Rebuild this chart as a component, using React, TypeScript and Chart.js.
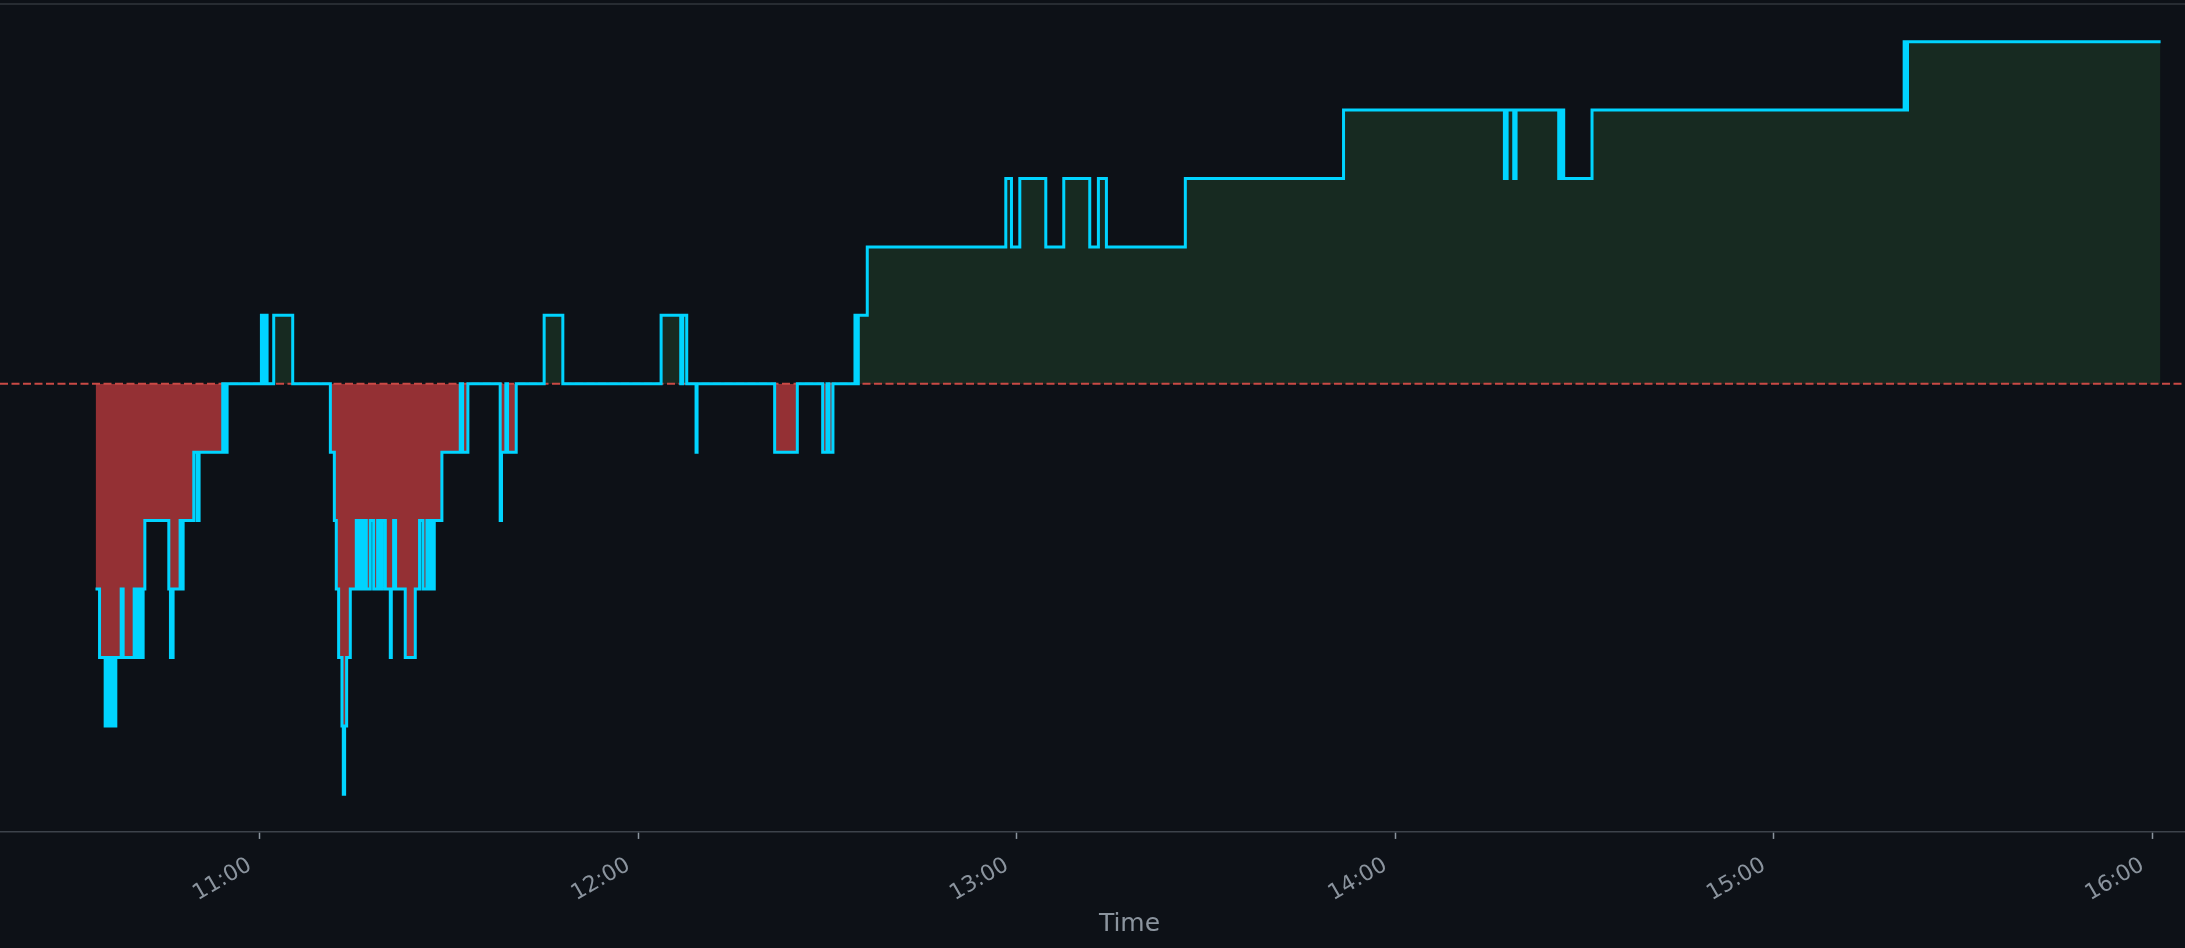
import { useEffect, useRef } from 'react';
import { Chart, registerables } from 'chart.js';

Chart.register(...registerables);

// transition times (minutes since midnight) and the integer level that holds from that time on
const times = [
  633.94, 634.58, 635.47, 635.9, 636.16, 636.53, 636.74, 637.16, 638.01, 638.32,
  640.07, 640.54, 640.86, 641.07, 641.49, 641.76, 645.56, 645.82, 646.24, 647.35,
  647.56, 647.83, 649.52, 650.05, 650.36, 654.11, 654.43, 654.8, 660.24, 660.61,
  660.77, 661.14, 662.19, 665.2, 671.17, 671.8, 672.11, 672.48, 673.01, 673.22,
  673.43, 673.75, 674.33, 675.28, 675.55, 675.92, 676.34, 676.6, 676.87, 677.5,
  678.03, 678.66, 678.98, 679.4, 679.88, 680.67, 680.83, 681.2, 681.51, 683.04,
  684.63, 685.31, 685.84, 686.48, 686.79, 687.22, 687.43, 687.64, 688.85, 691.76,
  692.13, 692.97, 698.09, 698.3, 698.99, 699.26, 700.63, 705.06, 708.02, 723.6,
  726.71, 727.03, 727.66, 729.14, 729.3, 741.6, 745.19, 749.21, 749.89, 750.21,
  750.84, 754.33, 754.59, 754.86, 756.28, 778.24, 779.14, 780.46, 784.58, 787.43,
  791.55, 792.92, 794.19, 806.7, 831.78, 857.28, 857.71, 858.76, 859.13, 865.89,
  866.26, 866.68, 871.17, 920.65, 920.91, 921.18, 961.3,
];
const levels = [
  -3, -4, -5, -4, -5, -4, -5, -4, -3, -4,
  -3, -4, -3, -4, -3, -2, -3, -4, -3, -2,
  -3, -2, -1, -2, -1, 0, -1, 0, 1, 0,
  1, 0, 1, 0, -1, -2, -3, -4, -5, -6,
  -5, -4, -3, -2, -3, -2, -3, -2, -3, -2,
  -3, -2, -3, -2, -3, -4, -3, -2, -3, -4,
  -3, -2, -3, -2, -3, -2, -3, -2, -1, 0,
  -1, 0, -2, -1, 0, -1, 0, 1, 0, 1,
  0, 1, 0, -1, 0, -1, 0, -1, 0, -1,
  0, 1, 0, 1, 2, 3, 2, 3, 2, 3,
  2, 3, 2, 3, 4, 3, 4, 3, 4, 3,
  4, 3, 4, 5, 4, 5, 5,
];
const baseline = 0;
const tickValues = [660, 720, 780, 840, 900, 960];
const xTitle = 'Time';
const xMin = 618.8;
const xMax = 976.9;
const yMin = -6.55;
const yMax = 5.55;

const fmtTime = (v: number) => `${Math.floor(v / 60)}:${String(Math.round(v % 60)).padStart(2, '0')}`;

// top spine plus the x-axis title, which sits under the centre of the (wider than the window) plot box
const frame = {
  id: 'frame',
  afterDraw(chart: any) {
    const { ctx, chartArea } = chart;
    ctx.save();
    ctx.strokeStyle = '#30363d';
    ctx.lineWidth = 1.5;
    ctx.beginPath();
    ctx.moveTo(chartArea.left, chartArea.top);
    ctx.lineTo(chartArea.right, chartArea.top);
    ctx.stroke();
    ctx.fillStyle = '#8b949e';
    ctx.font = '25px "DejaVu Sans"';
    ctx.textAlign = 'center';
    ctx.textBaseline = 'middle';
    ctx.fillText(xTitle, (chartArea.left + chartArea.right) / 2, chartArea.bottom + 93);
    ctx.restore();
  },
};

function StepChart() {
  const canvasRef = useRef<HTMLCanvasElement>(null);
  const chartRef = useRef<Chart | null>(null);

  useEffect(() => {
    if (!canvasRef.current) return;
    if (chartRef.current) chartRef.current.destroy();

    const points = times.map((t, i) => ({ x: t, y: levels[i] }));

    chartRef.current = new Chart(canvasRef.current, {
      type: 'line',
      data: {
        datasets: [
          {
            data: points,
            stepped: true,
            borderColor: '#00d4ff',
            borderWidth: 3,
            pointRadius: 0,
            fill: {
              target: { value: baseline },
              above: '#172a21',
              below: '#943034',
            },
          },
          {
            data: [
              { x: xMin, y: baseline },
              { x: xMax, y: baseline },
            ],
            borderColor: '#c94a45',
            borderWidth: 2,
            borderDash: [8, 3.5],
            pointRadius: 0,
            fill: false,
          },
        ],
      },
      options: {
        animation: false,
        responsive: false,
        layout: { padding: { top: 4, left: 0, right: 0, bottom: 27.5 } },
        plugins: {
          legend: { display: false },
          tooltip: { enabled: false },
          filler: { drawTime: 'beforeDatasetsDraw' },
        },
        scales: {
          x: {
            type: 'linear',
            min: xMin,
            max: xMax,
            afterBuildTicks: (axis: any) => {
              axis.ticks = tickValues.map((v) => ({ value: v }));
            },
            grid: {
              display: true,
              drawOnChartArea: false,
              drawTicks: true,
              tickLength: 7,
              tickWidth: 1.5,
              tickColor: '#8b949e',
            },
            border: { display: true, color: '#3d434b', width: 1.5 },
            ticks: {
              color: '#8b949e',
              minRotation: 30,
              maxRotation: 30,
              autoSkip: false,
              padding: 13.5,
              labelOffset: -10,
              font: { family: '"DejaVu Sans"', size: 22 },
              callback: (v: any) => fmtTime(Number(v)),
            },
          },
          y: {
            display: false,
            min: yMin,
            max: yMax,
          },
        },
      },
      plugins: [frame],
    });

    return () => {
      if (chartRef.current) {
        chartRef.current.destroy();
        chartRef.current = null;
      }
    };
  }, []);

  // the plot box is wider than the window and gets cut at the right edge, as in the picture
  return <canvas ref={canvasRef} width={2259} height={948} style={{ display: 'block' }} />;
}

export default function App() {
  return (
    <div
      style={{
        position: 'fixed',
        left: 0,
        top: 0,
        width: 2185,
        height: 948,
        overflow: 'hidden',
        background: '#0d1117',
      }}
    >
      <StepChart />
    </div>
  );
}
